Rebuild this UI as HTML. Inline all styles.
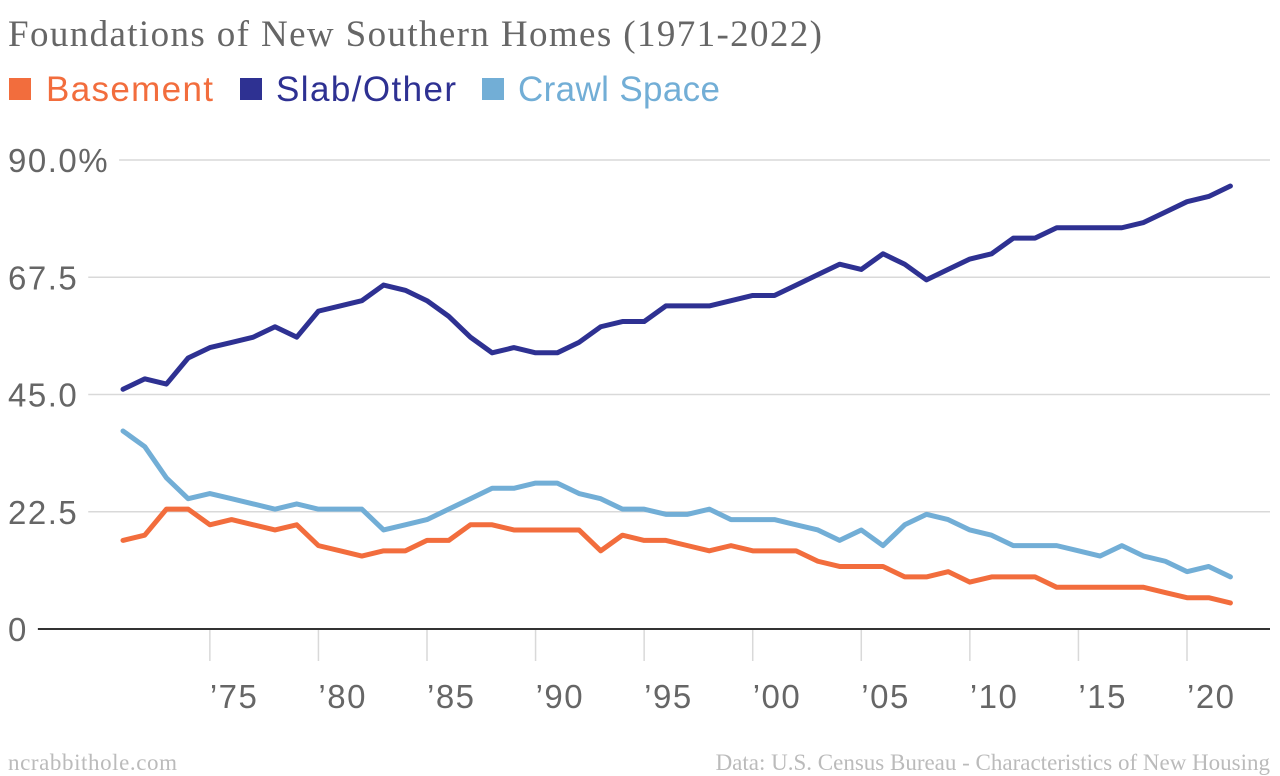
<!DOCTYPE html>
<html><head><meta charset="utf-8"><style>
html,body{margin:0;padding:0;background:#fff;}
svg{display:block;}
</style></head><body>
<svg id="chart" width="1280" height="776" xmlns="http://www.w3.org/2000/svg">
<text x="8" y="46" font-family="Liberation Serif, serif" font-size="37" textLength="814" fill="#666">Foundations of New Southern Homes (1971-2022)</text>
<g font-family="Liberation Sans, sans-serif" font-size="35">
<rect x="9" y="78" width="22" height="22" fill="#f26d3d"/>
<text x="46" y="101" fill="#f26d3d" textLength="167">Basement</text>
<rect x="240" y="78" width="22" height="22" fill="#2e3192"/>
<text x="276" y="101" fill="#2e3192" textLength="180">Slab/Other</text>
<rect x="482" y="78" width="22" height="22" fill="#72aed6"/>
<text x="518" y="101" fill="#72aed6" textLength="202">Crawl Space</text>
</g>
<g id="grid"></g><g id="xaxis"></g><g id="series"></g>
<text x="8" y="770" font-family="Liberation Serif, serif" font-size="23" textLength="169" fill="#bbb">ncrabbithole.com</text>
<text x="1270" y="770" text-anchor="end" font-family="Liberation Serif, serif" font-size="23" fill="#bbb">Data: U.S. Census Bureau - Characteristics of New Housing</text>
</svg>
<script>
const years=[];for(let y=1971;y<=2022;y++)years.push(y);
const basement=[17,18,23,23,20,21,20,19,20,16,15,14,15,15,17,17,20,20,19,19,19,19,15,18,17,17,16,15,16,15,15,15,13,12,12,12,10,10,11,9,10,10,10,8,8,8,8,8,7,6,6,5];
const slab=[46,48,47,52,54,55,56,58,56,61,62,63,66,65,63,60,56,53,54,53,53,55,58,59,59,62,62,62,63,64,64,66,68,70,69,72,70,67,69,71,72,75,75,77,77,77,77,78,80,82,83,85];
const crawl=[38,35,29,25,26,25,24,23,24,23,23,23,19,20,21,23,25,27,27,28,28,26,25,23,23,22,22,23,21,21,21,20,19,17,19,16,20,22,21,19,18,16,16,16,15,14,16,14,13,11,12,10];
const yTicks=[0,22.5,45,67.5,90];
const yTickLabels=["0","22.5","45.0","67.5","90.0%"];
const xTicks=[1975,1980,1985,1990,1995,2000,2005,2010,2015,2020];
const xTickLabels=["’75","’80","’85","’90","’95","’00","’05","’10","’15","’20"];
const NS="http://www.w3.org/2000/svg";
const X=y=>123+(y-1971)*(1187-123)/49;
const Y=v=>629-v*(629-160)/90;
function mk(tag,attrs,parent){const e=document.createElementNS(NS,tag);for(const k in attrs)e.setAttribute(k,attrs[k]);parent.appendChild(e);return e;}
const grid=document.getElementById('grid');
yTicks.forEach((t,i)=>{
 const tx=mk('text',{x:8,y:Y(t)+12,'font-family':'Liberation Sans, sans-serif','font-size':33,fill:'#666','letter-spacing':'1.5'},grid);
 tx.textContent=yTickLabels[i];
 
 
 const w=tx.getComputedTextLength();
 const ln=mk('line',{x1:8+w+10,x2:1270,y1:Y(t),y2:Y(t),stroke:t===0?'#333':'#d9d9d9','stroke-width':t===0?2:1.5},grid);
 
 
});
const xa=document.getElementById('xaxis');
xTicks.forEach((t,i)=>{
 const l=mk('line',{x1:X(t),x2:X(t),y1:630,y2:661,stroke:'#d9d9d9','stroke-width':1.5},xa);
 
 
 const tx=mk('text',{x:X(t),y:708,'font-family':'Liberation Sans, sans-serif','font-size':33,fill:'#666','letter-spacing':'1.5'},xa);
 tx.textContent=xTickLabels[i];
 
 
});
const ser=document.getElementById('series');
[[slab,'#2e3192','line-slab-other'],[crawl,'#72aed6','line-crawl-space'],[basement,'#f26d3d','line-basement']].forEach(([d,c,n])=>{
 const p=mk('polyline',{points:d.map((v,i)=>X(years[i])+','+Y(v)).join(' '),fill:'none',stroke:c,'stroke-width':5,'stroke-linejoin':'round','stroke-linecap':'round'},ser);
 
 
});
</script>
</body></html>
